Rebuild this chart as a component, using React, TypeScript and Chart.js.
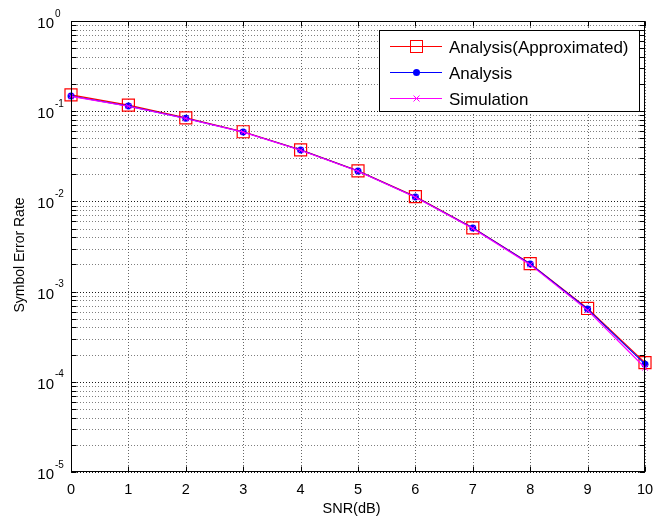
import React, { useEffect, useRef } from 'react';
import { Chart, registerables } from 'chart.js';

Chart.register(...registerables);

// ---- data ----
const snrDb = [0, 1, 2, 3, 4, 5, 6, 7, 8, 9, 10];
const serApproximated = [0.152, 0.117, 0.0845, 0.0592, 0.0373, 0.0218, 0.0113, 0.00509, 0.00204, 0.00065, 0.000163];
const serAnalysis = [0.1475, 0.114, 0.0834, 0.0588, 0.0371, 0.0217, 0.0112, 0.00507, 0.00202, 0.00064, 0.000157];
const serSimulation = [0.146, 0.1135, 0.083, 0.0585, 0.0369, 0.0216, 0.0111, 0.00502, 0.00199, 0.00062, 0.000143];

const seriesNames = ['Analysis(Approximated)', 'Analysis', 'Simulation'];
const xTickValues = [0, 1, 2, 3, 4, 5, 6, 7, 8, 9, 10];
const yDecadeExponents = [-5, -4, -3, -2, -1, 0];
const xTitle = 'SNR(dB)';
const yTitle = 'Symbol Error Rate';

const FONT = '"Liberation Sans", Arial, Helvetica, sans-serif';
const RED = '#ff0000';
const BLUE = '#0000ff';
const MAGENTA = '#ff00ff';

// grid/tick positions on the log axis: 1..9 x 10^e
const yGridValues: number[] = [];
for (const e of yDecadeExponents) {
  if (e === 0) { yGridValues.push(1); continue; }
  for (let m = 1; m <= 9; m++) yGridValues.push(m * Math.pow(10, e));
}
const isDecade = (v: number) => Math.abs(Math.log10(v) - Math.round(Math.log10(v))) < 1e-9;

const toPoints = (ys: number[]) => snrDb.map((x, i) => ({ x, y: ys[i] }));

function drawMarker(ctx: CanvasRenderingContext2D, kind: string, x: number, y: number, color: string) {
  ctx.save();
  ctx.setLineDash([]);
  ctx.strokeStyle = color;
  ctx.fillStyle = color;
  ctx.lineWidth = 1;
  if (kind === 'square') {
    ctx.strokeRect(x - 6, y - 6, 12, 12);
  } else if (kind === 'dot') {
    ctx.beginPath();
    ctx.arc(x, y, 3.5, 0, Math.PI * 2);
    ctx.fill();
  } else {
    ctx.beginPath();
    ctx.moveTo(x - 3, y - 3); ctx.lineTo(x + 3, y + 3);
    ctx.moveTo(x + 3, y - 3); ctx.lineTo(x - 3, y + 3);
    ctx.stroke();
  }
  ctx.restore();
}

const matlabPlugin = {
  id: 'matlabLook',
  beforeDatasetsDraw(chart: any) {
    const { ctx, chartArea: a, scales } = chart;
    const xs = scales.x, ys = scales.y;
    ctx.save();
    ctx.lineWidth = 1;
    ctx.setLineDash([1, 2]);
    for (const v of yGridValues) {
      const py = Math.round(ys.getPixelForValue(v)) + 0.5;
      ctx.strokeStyle = isDecade(v) ? 'rgba(0,0,0,0.9)' : 'rgba(0,0,0,0.5)';
      ctx.beginPath(); ctx.moveTo(a.left, py); ctx.lineTo(a.right, py); ctx.stroke();
    }
    for (const v of xTickValues) {
      const px = Math.round(xs.getPixelForValue(v)) + 0.5;
      ctx.strokeStyle = 'rgba(0,0,0,0.6)';
      ctx.beginPath(); ctx.moveTo(px, a.top); ctx.lineTo(px, a.bottom); ctx.stroke();
    }
    ctx.restore();
  },
  afterDatasetsDraw(chart: any) {
    const { ctx, chartArea: a, scales } = chart;
    const xs = scales.x, ys = scales.y;
    ctx.save();
    ctx.setLineDash([]);
    ctx.strokeStyle = '#000';
    ctx.fillStyle = '#000';
    ctx.lineWidth = 1;
    const L = Math.round(a.left) + 0.5, R = Math.round(a.right) - 0.5;
    const T = Math.round(a.top) + 0.5, B = Math.round(a.bottom) - 0.5;
    // box
    ctx.strokeRect(L, T, R - L, B - T);
    // ticks
    ctx.beginPath();
    for (const v of xTickValues) {
      const px = Math.round(xs.getPixelForValue(v)) + 0.5;
      ctx.moveTo(px, B); ctx.lineTo(px, B - 5);
      ctx.moveTo(px, T); ctx.lineTo(px, T + 5);
    }
    for (const v of yGridValues) {
      const py = Math.round(ys.getPixelForValue(v)) + 0.5;
      ctx.moveTo(L, py); ctx.lineTo(L + 5, py);
      ctx.moveTo(R, py); ctx.lineTo(R - 5, py);
    }
    ctx.stroke();

    // x tick labels
    ctx.font = `14.5px ${FONT}`;
    ctx.textAlign = 'center';
    ctx.textBaseline = 'alphabetic';
    for (const v of xTickValues) {
      ctx.fillText(String(v), xs.getPixelForValue(v), a.bottom + 22);
    }
    // y tick labels 10^e
    for (const e of yDecadeExponents) {
      const py = ys.getPixelForValue(Math.pow(10, e));
      ctx.font = `15px ${FONT}`;
      ctx.textAlign = 'right';
      ctx.fillText('10', a.left - 17, py + 7);
      ctx.font = `10px ${FONT}`;
      ctx.textAlign = 'left';
      ctx.fillText(String(e), a.left - 16, py - 4.5);
    }
    // axis titles
    ctx.font = `14.5px ${FONT}`;
    ctx.textAlign = 'center';
    ctx.fillText(xTitle, (a.left + a.right) / 2 - 6.5, a.bottom + 41);
    ctx.save();
    ctx.font = `14px ${FONT}`;
    ctx.translate(24, (a.top + a.bottom) / 2 + 8.5);
    ctx.rotate(-Math.PI / 2);
    ctx.textAlign = 'center';
    ctx.fillText(yTitle, 0, 0);
    ctx.restore();

    // legend
    const lx = 379.5, ly = 30.5, lw = 260, lh = 81;
    ctx.fillStyle = '#fff';
    ctx.fillRect(lx, ly, lw, lh);
    ctx.strokeStyle = '#000';
    ctx.strokeRect(lx, ly, lw, lh);
    const colors = [RED, BLUE, MAGENTA];
    const kinds = ['square', 'dot', 'cross'];
    const rowY = [46, 72, 98];
    ctx.font = `17px ${FONT}`;
    ctx.textAlign = 'left';
    seriesNames.forEach((name, i) => {
      const y = rowY[i] + 0.5;
      ctx.strokeStyle = colors[i];
      ctx.lineWidth = 1;
      ctx.beginPath(); ctx.moveTo(390, y); ctx.lineTo(442, y); ctx.stroke();
      drawMarker(ctx, kinds[i], 416.5, y, colors[i]);
      ctx.fillStyle = '#000';
      ctx.fillText(name, 449, rowY[i] + 6.5);
    });
    ctx.restore();
  },
};

export default function App() {
  const canvasRef = useRef<HTMLCanvasElement | null>(null);

  useEffect(() => {
    if (!canvasRef.current) return;
    const chart = new Chart(canvasRef.current, {
      type: 'line',
      data: {
        datasets: [
          {
            label: seriesNames[0],
            data: toPoints(serApproximated),
            borderColor: RED,
            backgroundColor: 'rgba(0,0,0,0)',
            borderWidth: 1.2,
            pointStyle: 'rect',
            pointRadius: 8.5,
            pointBorderWidth: 1.2,
            pointBorderColor: RED,
            pointBackgroundColor: 'rgba(0,0,0,0)',
            order: 3,
            clip: false,
          } as any,
          {
            label: seriesNames[1],
            data: toPoints(serAnalysis),
            borderColor: BLUE,
            backgroundColor: BLUE,
            borderWidth: 1.2,
            pointStyle: 'circle',
            pointRadius: 3.5,
            pointBorderWidth: 0,
            pointBackgroundColor: BLUE,
            order: 2,
            clip: false,
          } as any,
          {
            label: seriesNames[2],
            data: toPoints(serSimulation),
            borderColor: MAGENTA,
            backgroundColor: MAGENTA,
            borderWidth: 1.2,
            pointStyle: 'crossRot',
            pointRadius: 4,
            pointBorderWidth: 1,
            pointBorderColor: MAGENTA,
            order: 1,
            clip: false,
          } as any,
        ],
      },
      options: {
        responsive: false,
        animation: false,
        devicePixelRatio: 1,
        layout: { padding: { left: 71, top: 21, right: 9, bottom: 49 }, autoPadding: false },
        plugins: { legend: { display: false }, tooltip: { enabled: false } },
        scales: {
          x: {
            type: 'linear',
            min: 0,
            max: 10,
            ticks: { display: false, stepSize: 1 },
            grid: { display: false, drawTicks: false },
            border: { display: false },
          },
          y: {
            type: 'logarithmic',
            min: 1e-5,
            max: 1,
            ticks: { display: false },
            grid: { display: false, drawTicks: false },
            border: { display: false },
          },
        },
      } as any,
      plugins: [matlabPlugin],
    });
    return () => chart.destroy();
  }, []);

  return (
    <div style={{ position: 'absolute', left: 0, top: 0, width: 654, height: 521, background: '#fff' }}>
      <canvas ref={canvasRef} width={654} height={521} style={{ display: 'block', width: 654, height: 521 }} />
    </div>
  );
}
